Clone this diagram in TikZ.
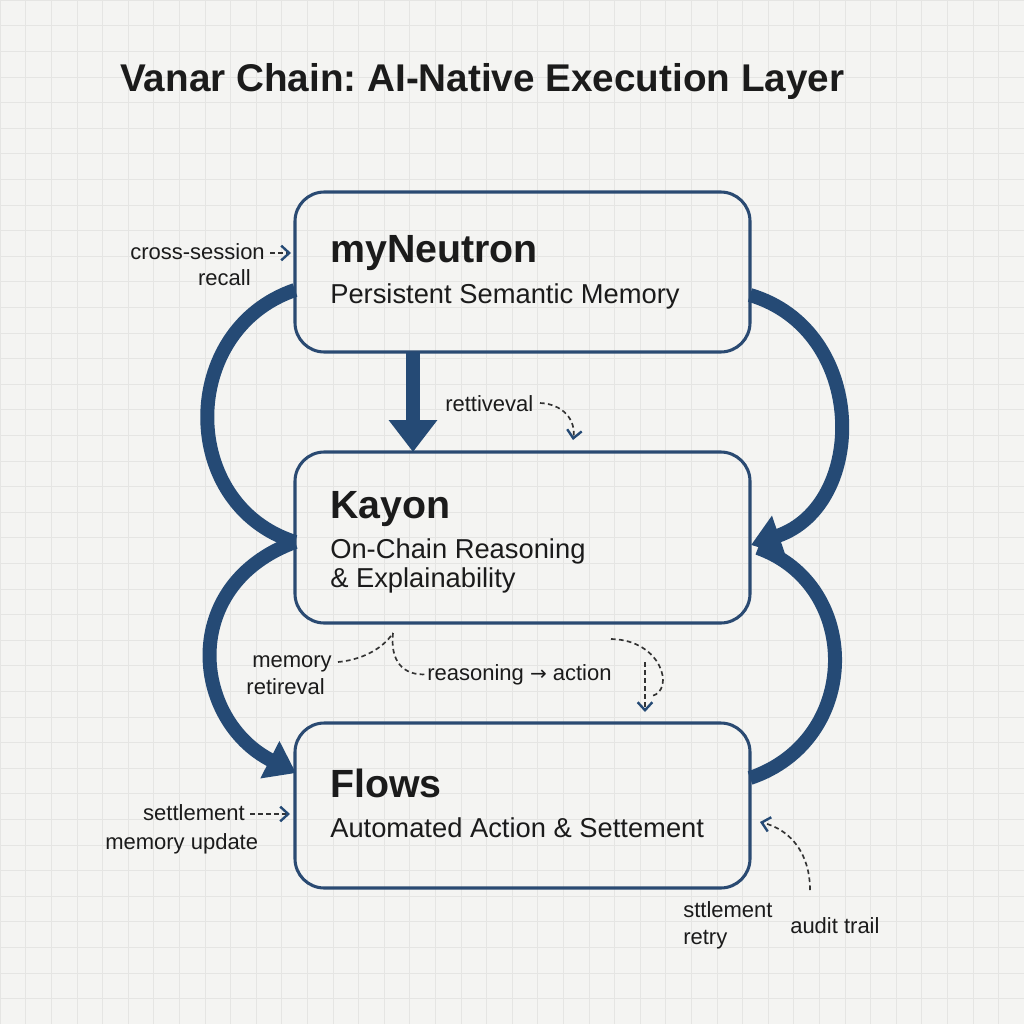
\documentclass[tikz,border=0pt]{standalone}
\usepackage{fontspec}
\setmainfont{Liberation Sans}
\newfontfamily\arrowfont{DejaVu Sans}
\usetikzlibrary{arrows.meta}
\frenchspacing
\definecolor{navy}{HTML}{254A75}
\definecolor{boxline}{HTML}{2A4A72}
\definecolor{bg}{HTML}{F4F4F2}
\definecolor{gridc}{HTML}{E5E5E3}
\definecolor{ink}{HTML}{1B1B1B}
\definecolor{dash}{HTML}{333333}
\tikzset{
  box/.style={draw=boxline, line width=2.3pt, rounded corners=22pt, minimum width=455*0.75pt, inner sep=0pt},
  head/.style={anchor=base west, text=ink, font=\bfseries\fontsize{29.5}{32}\selectfont, inner sep=0pt},
  sub/.style={anchor=base west, text=ink, font=\fontsize{20.5}{24}\selectfont, inner sep=0pt},
  note/.style={text=ink, font=\fontsize{16.5}{19}\selectfont, inner sep=0pt},
  flowarc/.style={draw=navy, line width=10.5pt},
  bighead/.style={-{Triangle[length=22pt,width=30pt]}},
  dasharrow/.style={draw=dash, line width=1.25pt, dash pattern=on 3.5pt off 2.5pt},
  barb/.style={-{Straight Barb[length=6pt,width=11pt,line width=1.8pt,color=navy]}}
}
\begin{document}
\begin{tikzpicture}[x=0.75pt,y=-0.75pt]
\fill[bg] (0,0) rectangle (1024,1024);
\useasboundingbox (0,0) rectangle (1024,1024);
\begin{scope}
\clip (0,0) rectangle (1024,1024);
\foreach \i in {0,...,40} {
  \draw[gridc, line width=0.4pt] (\i*25.6,0) -- (\i*25.6,1024);
  \draw[gridc, line width=0.4pt] (0,\i*25.6) -- (1024,\i*25.6);
}
\end{scope}

% title
\node[anchor=base west, text=ink, font=\bfseries\fontsize{29}{32}\selectfont, inner sep=0pt] (title) at (120,91) {Vanar Chain: AI-Native Execution Layer};

% boxes
\node[box, minimum height=160*0.75pt] (mem) at (522.5,272) {};
\node[box, minimum height=171*0.75pt] (kay) at (522.5,537.5) {};
\node[box, minimum height=165*0.75pt] (flo) at (522.5,805.5) {};

\node[head] (memh) at (330,262) {myNeutron};
\node[sub] (mems) at (330,303) {Persistent Semantic Memory};
\node[head] (kayh) at (330,518) {Kayon};
\node[sub] (kays1) at (330,558) {On-Chain Reasoning};
\node[sub] (kays2) at (330,587) {\& Explainability};
\node[head] (floh) at (330,797) {Flows};
\node[sub] (flos) at (330,837) {Automated Action \& Settement};

% anchor coordinates for thick connectors
\coordinate (mL) at (295,290);
\coordinate (kL) at (295,542);
\coordinate (fL) at (296,773);
\coordinate (mR) at (750,295);
\coordinate (kR) at (751,545);
\coordinate (kR2) at (758,548);
\coordinate (fR) at (750,778);
\coordinate (mB) at (413,352);
\coordinate (kT) at (413,452);

% thick connectors
\draw[flowarc] (mL) .. controls (178,330) and (178,505) .. (kL);
\draw[flowarc, bighead] (kL) .. controls (178,585) and (192,720) .. (fL);
\draw[flowarc] (fR) .. controls (862,740) and (862,585) .. (kR2);
\draw[flowarc, bighead] (mR) .. controls (868,330) and (868,505) .. (kR);
\draw[draw=navy, line width=10.5pt, -{Triangle[length=24pt,width=35pt]}] (mB) -- (kT);

% annotations
\node[note, anchor=base east] (cs) at (265,259) {cross-session};
\node[note, anchor=base east] (rc) at (251,285) {recall};
\coordinate (csS) at (270,253);
\coordinate (csA) at (291,253);
\draw[dasharrow, barb] (csS) -- (csA);

\node[note, anchor=base west] (rt) at (445,411) {rettiveval};
\coordinate (rtS) at (540,403);
\coordinate (rtA) at (573,440);
\draw[dasharrow, barb] (rtS) .. controls (563,404) and (576,420) .. (rtA);

\node[note, anchor=base east] (mr1) at (332,667) {memory};
\node[note, anchor=base east] (mr2) at (325,694) {retireval};
\coordinate (mrS) at (338,662);
\coordinate (kB1) at (393,633);
\draw[dasharrow] (mrS) .. controls (360,660) and (382,650) .. (kB1);
\node[note, anchor=base west] (ra) at (427,680) {reasoning {\arrowfont\fontsize{15}{18}\selectfont →} action};
\draw[dasharrow] (kB1) .. controls (390,660) and (402,676) .. (ra.west);

\coordinate (kB2) at (611,639);
\coordinate (rbend) at (652,696);
\draw[dasharrow] (kB2) .. controls (662,640) and (675,690) .. (rbend);
\coordinate (vs) at (645,662);
\coordinate (fT) at (645,712);
\draw[dasharrow, barb] (vs) -- (fT);

\node[note, anchor=base east] (st) at (245,820) {settlement};
\node[note, anchor=base west] (mu) at (105,849) {memory update};
\coordinate (stS) at (250,814);
\coordinate (stA) at (290,814);
\draw[dasharrow, barb] (stS) -- (stA);

\node[note, anchor=base west] (sr1) at (683,917) {sttlement};
\node[note, anchor=base west] (sr2) at (683,944) {retry};
\node[note, anchor=base west] (au) at (790,933) {audit trail};
\coordinate (auS) at (810,890);
\coordinate (auA) at (760,822);
\draw[dasharrow, barb] (auS) .. controls (810,855) and (792,830) .. (auA);
\end{tikzpicture}
\end{document}
